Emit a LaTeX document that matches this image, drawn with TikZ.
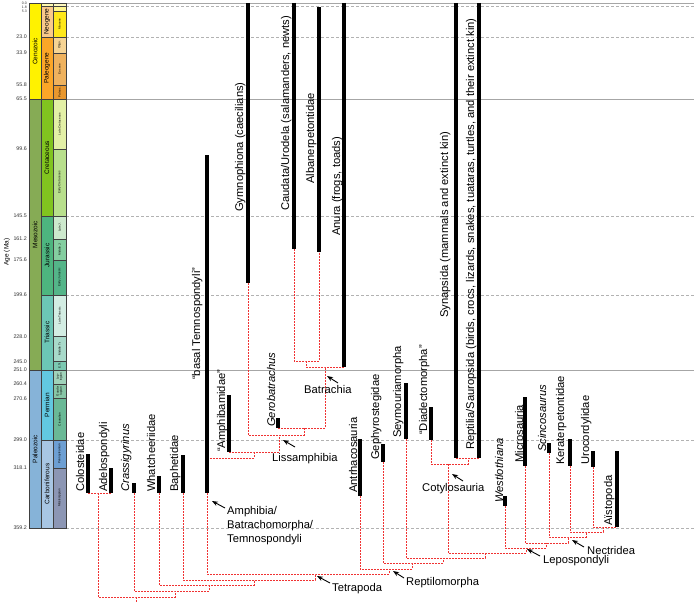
\documentclass[tikz,border=0pt]{standalone}
\usepackage{fontspec}
\setmainfont{Liberation Sans}
\usetikzlibrary{arrows.meta}
\definecolor{conred}{RGB}{240,50,50}
\definecolor{cenoz}{HTML}{FFF200}
\definecolor{mesoz}{HTML}{86AB55}
\definecolor{paleoz}{HTML}{86B3D8}
\definecolor{quat}{HTML}{FFF9AE}
\definecolor{neog}{HTML}{F9C98A}
\definecolor{paleog}{HTML}{FBA628}
\definecolor{cret}{HTML}{81C41F}
\definecolor{jur}{HTML}{4DB57F}
\definecolor{tri}{HTML}{6CC6B5}
\definecolor{perm}{HTML}{62C8E0}
\definecolor{carb}{HTML}{A8C6E3}
\definecolor{holo}{HTML}{FFF9C0}
\definecolor{plio}{HTML}{FFF68F}
\definecolor{mio}{HTML}{FFE81A}
\definecolor{olig}{HTML}{F6D494}
\definecolor{eoc}{HTML}{EFB25E}
\definecolor{paleoc}{HTML}{E9972E}
\definecolor{lk}{HTML}{E3F0A6}
\definecolor{ek}{HTML}{B8DF8C}
\definecolor{lj}{HTML}{CDE9CD}
\definecolor{mj}{HTML}{84CEA0}
\definecolor{ej}{HTML}{54B589}
\definecolor{lt}{HTML}{D3EDE3}
\definecolor{mt}{HTML}{A8DACA}
\definecolor{et}{HTML}{7BC8B1}
\definecolor{lop}{HTML}{A0D3BA}
\definecolor{gua}{HTML}{87C6A6}
\definecolor{cis}{HTML}{6AB996}
\definecolor{pen}{HTML}{6D9FD3}
\definecolor{mis}{HTML}{8C96B4}
\newcommand\yA[1]{(3.5+1.4602*(#1))}
\newcommand\fEra{\fontsize{6.5}{7.5}\selectfont}
\newcommand\fEp{\fontsize{3}{3.4}\selectfont}
\newcommand\fAge{\fontsize{5.3}{6}\selectfont}
\newcommand\tsbox[8]{%
  \filldraw[fill=#5, draw=black!75, line width=0.4pt] (#1,{\yA{#3}}) rectangle (#2,{\yA{#4}});
  \node[rotate=90, inner sep=0pt, font=#8, align=center] (#6) at ({(#1+#2)/2},{\yA{(#3+#4)/2}}) {#7};}
\tikzset{
  bar/.style={line width=3.2pt, black},
  conn/.style={draw=conred, line width=0.6pt, dash pattern=on 2pt off 1pt},
  taxon/.style={rotate=90, anchor=base west, inner sep=0pt, font=\fontsize{11.2}{13}\selectfont},
  itaxon/.style={taxon, font=\fontsize{11.2}{13}\selectfont\itshape},
  clade/.style={anchor=base west, inner sep=0pt, font=\fontsize{11.2}{13}\selectfont},
  pointer/.style={-{Stealth[length=6pt,width=4.5pt]}, line width=0.9pt, black},
  gridsolid/.style={draw=black!35, line width=0.6pt},
  griddash/.style={draw=black!30, line width=0.6pt, dash pattern=on 3pt off 2pt},
}
\begin{document}
\begin{tikzpicture}[x=1pt,y=-1pt]
\useasboundingbox[fill=white] (0,0) rectangle (694,602);
% grid lines
\foreach \a in {0,65.5,251} \draw[gridsolid] (66,{\yA{\a}}) -- (694,{\yA{\a}});
\foreach \a in {1.8,23,145.5,199.6,299,359.2} \draw[griddash] (66,{\yA{\a}}) -- (694,{\yA{\a}});
% eras
\tsbox{29}{41}{0}{65.5}{cenoz}{eCen}{Cenozoic}{\fEra}
\tsbox{29}{41}{65.5}{251}{mesoz}{eMes}{Mesozoic}{\fEra}
\tsbox{29}{41}{251}{359.2}{paleoz}{ePal}{Paleozoic}{\fEra}
% periods
\tsbox{41}{53}{0}{1.8}{quat}{pQua}{}{\fEp}
\tsbox{41}{53}{1.8}{23}{neog}{pNeo}{Neogene}{\fEra}
\tsbox{41}{53}{23}{65.5}{paleog}{pPal}{Paleogene}{\fEra}
\tsbox{41}{53}{65.5}{145.5}{cret}{pCre}{Cretaceous}{\fEra}
\tsbox{41}{53}{145.5}{199.6}{jur}{pJur}{Jurassic}{\fEra}
\tsbox{41}{53}{199.6}{251}{tri}{pTri}{Triassic}{\fEra}
\tsbox{41}{53}{251}{299}{perm}{pPer}{Permian}{\fEra}
\tsbox{41}{53}{299}{359.2}{carb}{pCar}{Carboniferous}{\fEra}
% epochs
\tsbox{53}{66}{0}{1.8}{holo}{xHol}{}{\fEp}
\tsbox{53}{66}{1.8}{5.3}{plio}{xPli}{}{\fEp}
\tsbox{53}{66}{5.3}{23}{mio}{xMio}{Miocene}{\fEp}
\tsbox{53}{66}{23}{33.9}{olig}{xOli}{Oligo.}{\fEp}
\tsbox{53}{66}{33.9}{55.8}{eoc}{xEoc}{Eocene}{\fEp}
\tsbox{53}{66}{55.8}{65.5}{paleoc}{xPac}{Paleoc.}{\fEp}
\tsbox{53}{66}{65.5}{99.6}{lk}{xLK}{Late Cretaceous}{\fEp}
\tsbox{53}{66}{99.6}{145.5}{ek}{xEK}{Early Cretaceous}{\fEp}
\tsbox{53}{66}{145.5}{161.2}{lj}{xLJ}{Late J.}{\fEp}
\tsbox{53}{66}{161.2}{175.6}{mj}{xMJ}{Middle J.}{\fEp}
\tsbox{53}{66}{175.6}{199.6}{ej}{xEJ}{Early Jurassic}{\fEp}
\tsbox{53}{66}{199.6}{228}{lt}{xLT}{Late Triassic}{\fEp}
\tsbox{53}{66}{228}{245}{mt}{xMT}{Middle Tr.}{\fEp}
\tsbox{53}{66}{245}{251}{et}{xET}{E.Tr.}{\fEp}
\tsbox{53}{66}{251}{260.4}{lop}{xLop}{Lop-\\ingian}{\fEp}
\tsbox{53}{66}{260.4}{270.6}{gua}{xGua}{Guada-\\lupian}{\fEp}
\tsbox{53}{66}{270.6}{299}{cis}{xCis}{Cisuralian}{\fEp}
\tsbox{53}{66}{299}{318.1}{pen}{xPen}{Pennsylvanian}{\fEp}
\tsbox{53}{66}{318.1}{359.2}{mis}{xMis}{Mississippian}{\fEp}
% age labels
\node[anchor=east, inner sep=0pt, font=\fontsize{3.5}{4}\selectfont, text=black!80] (ageA) at (27,{\yA{0}}) {0.0};
\node[anchor=east, inner sep=0pt, font=\fontsize{3.5}{4}\selectfont, text=black!80] (ageB) at (27,{\yA{1.8}+0.8}) {1.8};
\node[anchor=east, inner sep=0pt, font=\fontsize{3.5}{4}\selectfont, text=black!80] (ageC) at (27,{\yA{5.3}}) {5.3};
\foreach[count=\i] \a/\t in {23/23.0,33.9/33.9,55.8/55.8,65.5/65.5,99.6/99.6,145.5/145.5,161.2/161.2,175.6/175.6,199.6/199.6,228/228.0,245/245.0,251/251.0,260.4/260.4,270.6/270.6,299/299.0,318.1/318.1,359.2/359.2}
  \node[anchor=east, inner sep=0pt, font=\fAge, text=black!80] (age\i) at (27,{\yA{\a}}) {\t};
\node[rotate=90, inner sep=0pt, font=\fontsize{6.5}{7}\selectfont] (agettl) at (7,252) {Age (Ma)};
% coordinates: leaf bottoms
\coordinate (colB) at (88,493);
\coordinate (adeB) at (111,493);
\coordinate (craB) at (134,493);
\coordinate (whaB) at (159,493);
\coordinate (bapB) at (183,493);
\coordinate (btmB) at (207,493);
\coordinate (ambB) at (229,452);
\coordinate (gerB) at (278,428);
\coordinate (gymB) at (248,283);
\coordinate (cauB) at (294,249);
\coordinate (albB) at (319,252);
\coordinate (anuB) at (344,367);
\coordinate (antB) at (360,496);
\coordinate (gepB) at (383,462);
\coordinate (seyB) at (406,439);
\coordinate (diaB) at (431,440);
\coordinate (synB) at (456,458);
\coordinate (repB) at (479,458);
\coordinate (wesB) at (505,506);
\coordinate (micB) at (525,466);
\coordinate (sciB) at (549,453);
\coordinate (kerB) at (570,466);
\coordinate (uroB) at (593,467);
\coordinate (aisB) at (617,527);
% internal nodes
\coordinate (nCol) at (98,493);
\coordinate (root) at (136,597);
\coordinate (rootEnd) at (136,602);
\coordinate (nCra) at (175,591);
\coordinate (nWha) at (209,585);
\coordinate (nBap) at (254,580);
\coordinate (tetra) at (315,574);
\coordinate (reptm) at (389,569);
\coordinate (nGep) at (412,563);
\coordinate (nSey) at (443,558);
\coordinate (nCL) at (485,553);
\coordinate (coty) at (448,464);
\coordinate (amnio) at (468,458);
\coordinate (lepo) at (526,548);
\coordinate (nMic) at (546,543);
\coordinate (nectr) at (568,537);
\coordinate (nKer) at (586,532);
\coordinate (nUro) at (603,527);
\coordinate (nAL) at (254,452);
\coordinate (tAtt) at (207,458);
\coordinate (liss) at (279,435);
\coordinate (nGer) at (304,428);
\coordinate (batr) at (325,367);
\coordinate (nCau) at (306,361);
% connectors
\draw[conn] (colB) |- (nCol) -| (adeB);
\draw[conn] (nCol) |- (root) -| (nCra);
\draw[conn] (root) -- (rootEnd);
\draw[conn] (craB) |- (nCra) -| (nWha);
\draw[conn] (whaB) |- (nWha) -| (nBap);
\draw[conn] (bapB) |- (nBap) -| (tetra);
\draw[conn] (btmB) |- (tetra) -| (reptm);
\draw[conn] (antB) |- (reptm) -| (nGep);
\draw[conn] (gepB) |- (nGep) -| (nSey);
\draw[conn] (seyB) |- (nSey) -| (nCL);
\draw[conn] (coty) |- (nCL) -| (lepo);
\draw[conn] (diaB) |- (coty) -| (amnio);
\draw[conn] (synB) |- (amnio) -| (repB);
\draw[conn] (wesB) |- (lepo) -| (nMic);
\draw[conn] (micB) |- (nMic) -| (nectr);
\draw[conn] (sciB) |- (nectr) -| (nKer);
\draw[conn] (kerB) |- (nKer) -| (nUro);
\draw[conn] (uroB) |- (nUro) -| (aisB);
\draw[conn] (ambB) |- (nAL) -| (liss);
\draw[conn] (nAL) |- (tAtt);
\draw[conn] (gymB) |- (liss) -| (nGer);
\draw[conn] (gerB) |- (nGer) -| (batr);
\draw[conn] (nCau) |- (batr) -| (anuB);
\draw[conn] (cauB) |- (nCau) -| (albB);
% bars
\draw[bar] (88,454) -- (colB);
\draw[bar] (111,468) -- (adeB);
\draw[bar] (134,483) -- (craB);
\draw[bar] (159,476) -- (whaB);
\draw[bar] (183,455) -- (bapB);
\draw[bar] (207,155) -- (btmB);
\draw[bar] (229,395) -- (ambB);
\draw[bar] (278,418) -- (gerB);
\draw[bar] (248,3) -- (gymB);
\draw[bar] (294,3) -- (cauB);
\draw[bar] (319,7) -- (albB);
\draw[bar] (344,3) -- (anuB);
\draw[bar] (360,439) -- (antB);
\draw[bar] (383,444) -- (gepB);
\draw[bar] (406,383) -- (seyB);
\draw[bar] (431,407) -- (diaB);
\draw[bar] (456,3) -- (synB);
\draw[bar] (479,3) -- (repB);
\draw[bar] (505,496) -- (wesB);
\draw[bar] (525,397) -- (micB);
\draw[bar] (549,443) -- (sciB);
\draw[bar] (570,439) -- (kerB);
\draw[bar] (593,451) -- (uroB);
\draw[bar] (617,451) -- (aisB);
% taxon labels
\node[taxon] (colL) at (84,492) {Colosteidae};
\node[taxon] (adeL) at (107,492) {Adelospondyli};
\node[itaxon] (craL) at (129,492) {Crassigyrinus};
\node[taxon] (whaL) at (155,492) {Whatcheeriidae};
\node[taxon] (bapL) at (178,492) {Baphetidae};
\node[taxon] (btmL) at (200,380) {“basal Temnospondyli”};
\node[taxon] (ambL) at (225,452) {“Amphibamidae”};
\node[itaxon] (gerL) at (275,427) {Gerobatrachus};
\node[taxon] (gymL) at (243,212) {Gymnophiona (caecilians)};
\node[taxon] (cauL) at (289,211) {Caudata/Urodela (salamanders, newts)};
\node[taxon] (albL) at (314,184) {Albanerpetontidae};
\node[taxon] (anuL) at (340,236) {Anura (frogs, toads)};
\node[taxon] (antL) at (357,493) {Antrhacosauria};
\node[taxon] (gepL) at (379,460) {Gephyrostegidae};
\node[taxon] (seyL) at (401,438) {Seymouriamorpha};
\node[taxon] (diaL) at (427,435) {“Diadectomorpha”};
\node[taxon] (synL) at (448,318) {Synapsida (mammals and extinct kin)};
\node[taxon] (repL) at (474,450) {Reptilia/Sauropsida (birds, crocs, lizards, snakes, tuataras, turtles, and their extinct kin)};
\node[itaxon] (wesL) at (503,503) {Westlothiana};
\node[taxon] (micL) at (523,463) {Microsauria};
\node[itaxon] (sciL) at (546,452) {Scincosaurus};
\node[taxon] (kerL) at (564,465) {Keraterpetontidae};
\node[taxon] (uroL) at (589,465) {Urocordylidae};
\node[taxon] (aisL) at (612,526) {Aïstopoda};
% clade labels
\node[clade] (amL1) at (227,514) {Amphibia/};
\node[clade] (amL2) at (227,528) {Batrachomorpha/};
\node[clade] (amL3) at (227,542) {Temnospondyli};
\node[clade] (lisL) at (272,461) {Lissamphibia};
\node[clade] (batL) at (304,393) {Batrachia};
\node[clade] (tetL) at (332,591) {Tetrapoda};
\node[clade] (rmL) at (406,585) {Reptilomorpha};
\node[clade] (cotL) at (422,491) {Cotylosauria};
\node[clade] (lepL) at (543,563) {Lepospondyli};
\node[clade] (necL) at (587,554) {Nectridea};
% pointers
\coordinate (amTail) at (225,508); \coordinate (amTip) at (212,501);
\coordinate (liTail) at (295,447); \coordinate (liTip) at (283,440);
\coordinate (baTail) at (338,383); \coordinate (baTip) at (327,376);
\coordinate (teTail) at (330,583); \coordinate (teTip) at (317,576);
\coordinate (rmTail) at (404,578); \coordinate (rmTip) at (393,571);
\coordinate (coTail) at (463,481); \coordinate (coTip) at (452,474);
\coordinate (lpTail) at (540,556); \coordinate (lpTip) at (527,549);
\coordinate (neTail) at (584,547); \coordinate (neTip) at (572,540);
\draw[pointer] (amTail) -- (amTip);
\draw[pointer] (liTail) -- (liTip);
\draw[pointer] (baTail) -- (baTip);
\draw[pointer] (teTail) -- (teTip);
\draw[pointer] (rmTail) -- (rmTip);
\draw[pointer] (coTail) -- (coTip);
\draw[pointer] (lpTail) -- (lpTip);
\draw[pointer] (neTail) -- (neTip);
\end{tikzpicture}
\end{document}
